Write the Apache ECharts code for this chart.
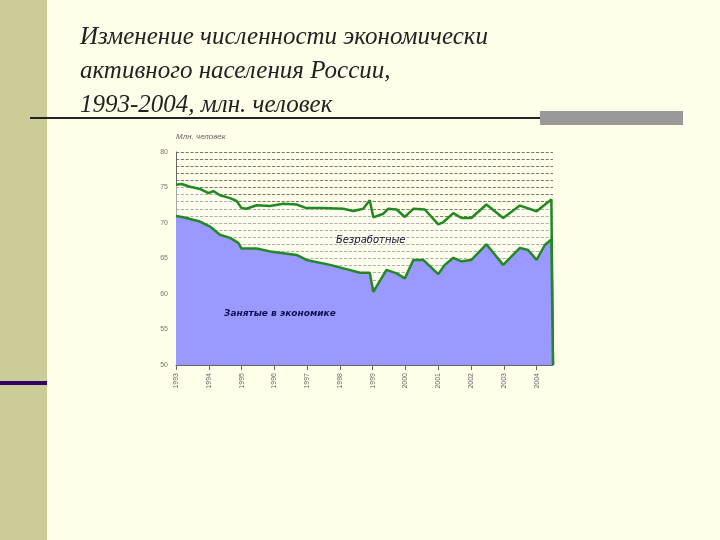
<!DOCTYPE html>
<html><head><meta charset="utf-8">
<script src="https://cdn.jsdelivr.net/npm/echarts@6/dist/echarts.min.js"></script>
<style>html,body{margin:0;padding:0;background:#fefee9;}#c{width:720px;height:540px;}</style>
</head><body><div id="c"></div>
<script>
const yearTicks = [1993,1994,1995,1996,1997,1998,1999,2000,2001,2002,2003,2004];
const activeX = [1993.00,1993.17,1993.43,1993.73,1993.99,1994.14,1994.34,1994.65,1994.85,1995.00,1995.15,1995.46,1995.87,1996.27,1996.68,1996.98,1997.49,1998.10,1998.41,1998.71,1998.91,1999.02,1999.32,1999.47,1999.73,1999.98,2000.24,2000.59,2001.00,2001.15,2001.46,2001.71,2002.01,2002.47,2002.98,2003.49,2004.00,2004.45,2004.5];
const activeY = [75.4,75.5,75.1,74.8,74.2,74.5,73.9,73.5,73.1,72.1,72.0,72.5,72.4,72.7,72.6,72.1,72.1,72.0,71.7,72.0,73.2,70.8,71.3,72.0,71.9,70.85,72.0,71.9,69.8,70.1,71.4,70.7,70.7,72.6,70.7,72.45,71.65,73.3,50];
const employedX = [1993.00,1993.22,1993.73,1994.04,1994.34,1994.65,1994.90,1995.00,1995.46,1995.87,1996.68,1996.98,1997.70,1998.20,1998.61,1998.91,1999.02,1999.42,1999.73,1999.98,2000.24,2000.54,2001.00,2001.20,2001.46,2001.71,2002.01,2002.47,2002.98,2003.49,2003.74,2004.00,2004.25,2004.45,2004.5];
const employedY = [71.0,70.8,70.2,69.5,68.35,67.9,67.2,66.4,66.4,66.0,65.5,64.8,64.1,63.5,63.0,63.0,60.3,63.4,62.9,62.2,64.8,64.8,62.8,64.1,65.1,64.6,64.8,67.0,64.1,66.5,66.2,64.8,66.9,67.7,50];
const labelActive = 'Безработные';
const labelEmployed = 'Занятые в экономике';
const unitLabel = 'Млн. человек';
const titleLines = ['Изменение численности экономически','активного населения России,','1993-2004, млн. человек'];

const chart = echarts.init(document.getElementById('c'));
chart.setOption({
  backgroundColor:'#fefee9',
  animation:false,
  graphic:[
    {type:'rect',shape:{x:0,y:0,width:47,height:540},style:{fill:'#cccc99'}},
    {type:'rect',shape:{x:0,y:381,width:47,height:4},style:{fill:'#330066'}},
    {type:'rect',shape:{x:30,y:117,width:510,height:2},style:{fill:'#222'}},
    {type:'rect',shape:{x:540,y:111,width:143,height:14},style:{fill:'#999999'}},
    {type:'text',left:80,top:20,style:{text:titleLines.join('\n'),font:'italic 25px "Liberation Serif"',lineHeight:34,fill:'#222'}},
    {type:'text',left:336,top:235,z:100,style:{text:labelActive,font:'italic 10px "DejaVu Sans"',fill:'#111133'}},
    {type:'text',left:224,top:309,z:100,style:{text:labelEmployed,font:'italic bold 9px "DejaVu Sans"',fill:'#111155'}}
  ],
  grid:{left:176,right:167,top:152,bottom:175},
  xAxis:{type:'value',min:1993,max:2004.5,interval:1,
    axisLine:{lineStyle:{color:'#666'}},axisTick:{show:true,lineStyle:{color:'#666'}},
    splitLine:{show:false},
    axisLabel:{rotate:90,fontSize:7,color:'#666',showMaxLabel:false,formatter:v=>yearTicks.includes(v)?String(v):''}},
  yAxis:{type:'value',min:50,max:80,interval:1,name:unitLabel,nameLocation:'end',
    nameTextStyle:{fontSize:8,fontStyle:'italic',color:'#666',align:'left',padding:[0,0,-4,0]},
    axisLine:{show:true,lineStyle:{color:'#666'}},axisTick:{show:false},
    axisLabel:{fontSize:7,color:'#777',formatter:v=>v%5===0?String(v):''},
    splitLine:{show:true,lineStyle:{type:'dashed',color:'#555',width:0.8}}},
  series:[
    {type:'line',symbol:'none',data:activeX.map((x,i)=>[x,activeY[i]]),
      lineStyle:{color:'#228822',width:2.5},areaStyle:{color:'rgba(255,255,248,0.6)',origin:'start'},z:2},
    {type:'line',symbol:'none',data:employedX.map((x,i)=>[x,employedY[i]]),
      lineStyle:{color:'#228822',width:2.5},areaStyle:{color:'#9999ff',opacity:1,origin:'start'},z:3}
  ]
});
</script></body></html>
